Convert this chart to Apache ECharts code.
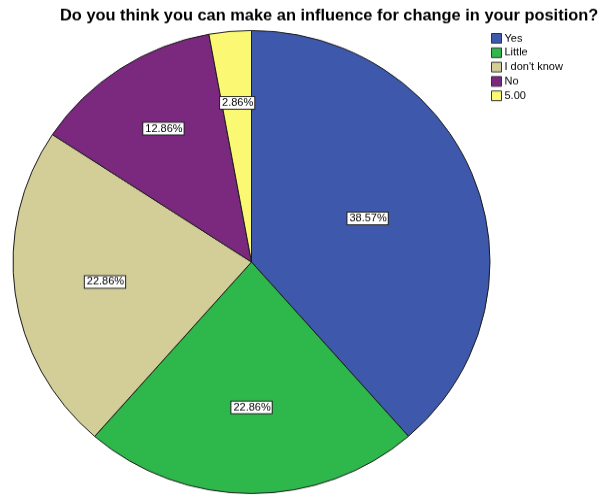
<!DOCTYPE html>
<html>
<head>
<meta charset="utf-8">
<script src="https://cdn.jsdelivr.net/npm/echarts@6/dist/echarts.min.js"></script>
<style>
  html, body { margin: 0; padding: 0; background: #fff; overflow: hidden; }
  #wrap { width: 606px; height: 498px; overflow: hidden; }
  /* the plot is drawn slightly taller, then squeezed so the pie is a wide ellipse */
  #chart { width: 606px; transform-origin: 0 0; }
</style>
</head>
<body>
<div id="wrap"><div id="chart"></div></div>
<script>
// Answer categories and their percentage shares
const categories = ['Yes', 'Little', "I don't know", 'No', '5.00'];
const percents = [38.57, 22.86, 22.86, 12.86, 2.86];
const colors = ['#3e58ac', '#2eb84b', '#d3cd98', '#7a297e', '#fbf874'];

// Vertical squeeze applied to the whole drawing
const SQ = 231.5 / 238.5;
const el = document.getElementById('chart');
el.style.height = Math.round(498 / SQ) + 'px';
el.style.transform = 'scaleY(' + SQ + ')';

// Pie geometry (in unsqueezed units) and label reach as a fraction of radius
const CX = 251.5, CY = 262 / SQ, R = 238.5;
const labelReach = [0.52, 0.61, 0.62, 0.67, 0.67];

const total = percents.reduce((a, b) => a + b, 0);
const midAngles = [];
let acc = 0;
percents.forEach(v => {
  midAngles.push(((acc + v / 2) / total) * Math.PI * 2);
  acc += v;
});

const chart = echarts.init(el, null, { renderer: 'canvas' });
chart.setOption({
  animation: false,
  title: {
    text: 'Do you think you can make an influence for change in your position?',
    left: 60,
    top: 8 / SQ,
    textStyle: { fontFamily: 'Liberation Sans, Arial, sans-serif', fontSize: 16.4, fontWeight: 'bold', color: '#000' },
    padding: 0
  },
  legend: {
    orient: 'vertical',
    left: 491,
    top: 33 / SQ,
    itemWidth: 10,
    itemHeight: 10,
    itemGap: 3.8,
    padding: 0,
    icon: 'rect',
    selectedMode: false,
    textStyle: { fontFamily: 'Liberation Sans, Arial, sans-serif', fontSize: 11, color: '#000', padding: [0, 0, 0, -2] },
    itemStyle: { borderColor: '#333', borderWidth: 1 },
    data: categories
  },
  series: [{
    type: 'pie',
    center: [CX, CY],
    radius: [0, R],
    startAngle: 90,
    clockwise: true,
    avoidLabelOverlap: false,
    itemStyle: { borderColor: '#1a1a1a', borderWidth: 1 },
    emphasis: { disabled: true },
    label: {
      show: true,
      position: 'inside',
      formatter: p => percents[p.dataIndex].toFixed(2) + '%',
      fontFamily: 'Liberation Sans, Arial, sans-serif',
      fontSize: 11,
      color: '#000',
      backgroundColor: '#fff',
      borderColor: '#222',
      borderWidth: 1,
      padding: [1, 1, 0, 2]
    },
    labelLayout: p => {
      const i = p.dataIndex;
      const a = midAngles[i];
      const r = R * labelReach[i];
      return {
        x: CX + r * Math.sin(a),
        y: CY - r * Math.cos(a) / SQ,
        align: 'center',
        verticalAlign: 'middle'
      };
    },
    data: categories.map((c, i) => ({ name: c, value: percents[i], itemStyle: { color: colors[i] } }))
  }]
});
</script>
</body>
</html>
